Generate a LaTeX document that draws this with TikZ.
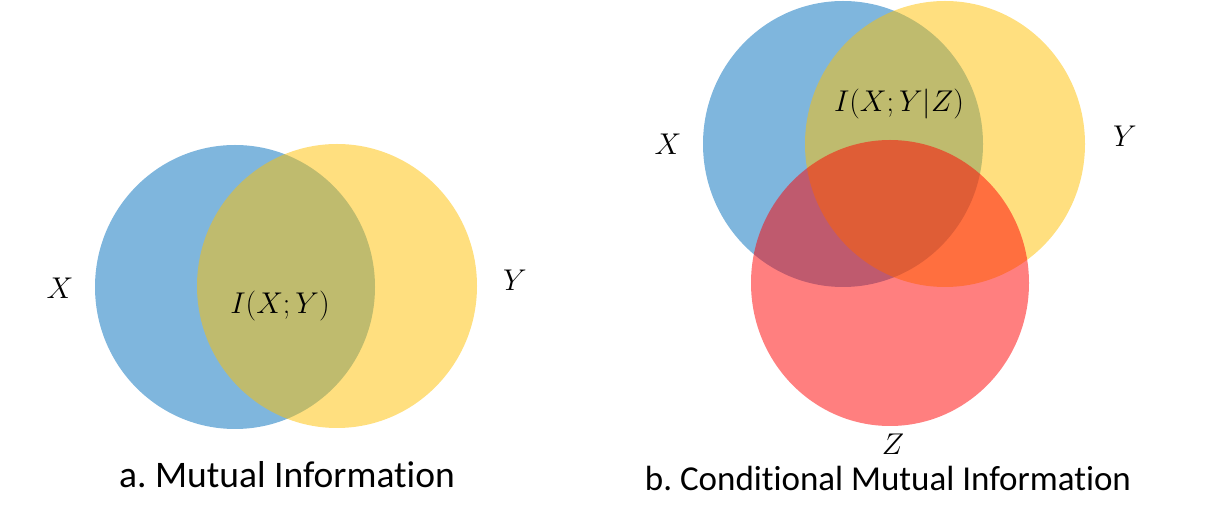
\RequirePackage{fix-cm}
\documentclass[tikz,border=0pt]{standalone}
\usepackage{fontspec}
\setmainfont{Carlito}[Ligatures = CommonOff]
\usepackage{amsmath}
\frenchspacing
\definecolor{setblue}{RGB}{127,182,221}
\definecolor{setyellow}{RGB}{255,192,0}
\definecolor{setred}{RGB}{255,0,0}

\begin{document}
\begin{tikzpicture}[x = 1pt, y = -1pt,
	 setx/.style = {fill = setblue},
	 sety/.style = {fill = setyellow, fill opacity = 0.5},
	 setz/.style = {fill = setred, fill opacity = 0.5},
	 varlabel/.style = {inner sep = 0pt, font = \fontsize{30}{36}\selectfont},
	 caption/.style = {anchor = base, inner sep = 0pt, font = \fontsize{37.5}{44}\selectfont}]
	 \useasboundingbox (0, 0) rectangle (1208, 526);

	 % a. mutual information
	 \fill[setx] (235, 287) ellipse (140 and 142);
	 \fill[sety] (337, 286) ellipse (140 and 142);
	 \node[varlabel] (ax) at (60, 288) {$X$};
	 \node[varlabel] (ay) at (515, 280) {$Y$};
	 \node[varlabel] (axy) at (280, 306) {$I(X;Y)$};
	 \node[caption] (capa) at (287, 487) {a. Mutual Information};

	 % b. conditional mutual information
	 \fill[setx] (843, 144) ellipse (140 and 143);
	 \fill[sety] (945, 144) ellipse (140 and 143);
	 \fill[setz] (890, 283) ellipse (139 and 143);
	 \node[varlabel] (bx) at (668, 144) {$X$};
	 \node[varlabel] (by) at (1125, 136) {$Y$};
	 \node[varlabel] (bz) at (893, 444) {$Z$};
	 \node[varlabel] (bxyz) at (899, 104) {$I(X;Y|Z)$};
	 \node[caption, font = \fontsize{35}{42}\selectfont] (capb) at (888, 490) {b. Conditional Mutual Information};
\end{tikzpicture}
\end{document}
